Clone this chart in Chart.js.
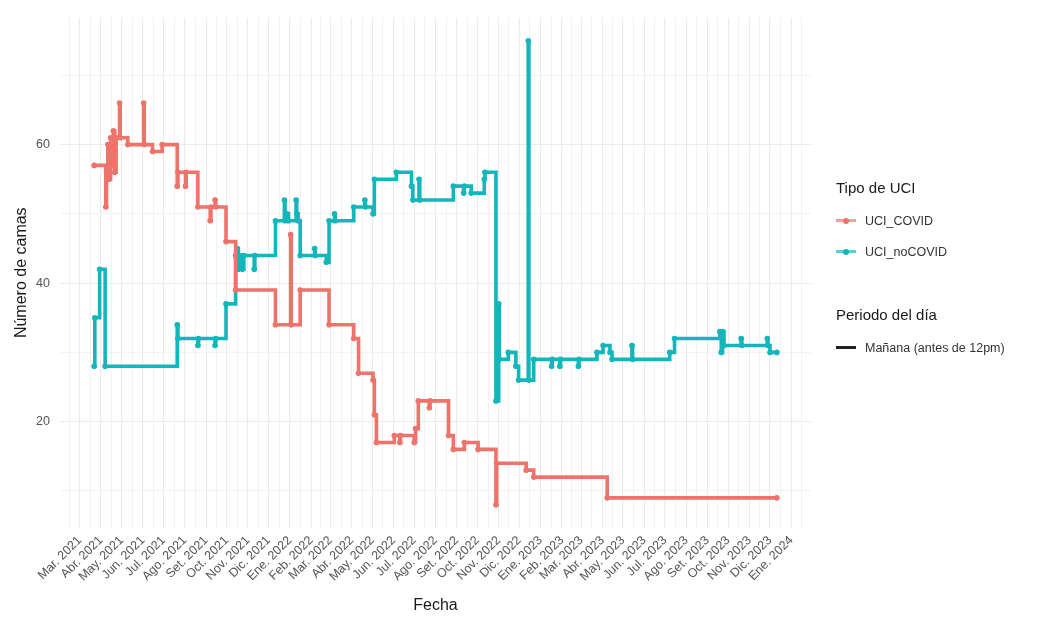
<!DOCTYPE html>
<html>
<head>
<meta charset="utf-8">
<script src="https://cdn.jsdelivr.net/npm/chart.js@4/dist/chart.umd.min.js"></script>
<style>
  body { margin: 0; background: #fff; font-family: "Liberation Sans", Arial, sans-serif; }
  #wrap { position: relative; width: 1045px; height: 620px; }
  .legend { position: absolute; left: 836px; color: #1a1a1a; }
  .legend .title { font-size: 15px; margin-bottom: 9px; }
  .legend .item { display: flex; align-items: center; height: 31px; font-size: 12.5px; color: #333; }
  .key { position: relative; width: 20px; height: 3px; margin-right: 9px; }
  .key .dot { position: absolute; left: 7px; top: -1.5px; width: 6px; height: 6px; border-radius: 3px; }
</style>
</head>
<body>
<div id="wrap">
  <canvas id="chart" width="1045" height="620"></canvas>
  <div class="legend" style="top:179px">
    <div class="title">Tipo de UCI</div>
    <div class="item"><span class="key" style="background:#f3a09a"><span class="dot" style="background:#ed736b"></span></span>UCI_COVID</div>
    <div class="item"><span class="key" style="background:#5fcfd2"><span class="dot" style="background:#13b6ba"></span></span>UCI_noCOVID</div>
  </div>
  <div class="legend" style="top:306px">
    <div class="title">Periodo del día</div>
    <div class="item"><span class="key" style="background:#222"></span>Mañana (antes de 12pm)</div>
  </div>
</div>
<script>
const COLOR_COVID = '#ed736b';
const COLOR_NOCOVID = '#13b6ba';

// UCI_COVID: date of each observation and beds in use
const covidDates = [
  '2021-03-22','2021-04-08','2021-04-09','2021-04-11','2021-04-13','2021-04-15','2021-04-17','2021-04-19',
  '2021-04-21','2021-04-23','2021-04-28','2021-04-29','2021-05-10','2021-06-02','2021-06-03','2021-06-15',
  '2021-06-29','2021-07-21','2021-07-22','2021-08-02','2021-08-03','2021-08-20','2021-09-07','2021-09-08',
  '2021-09-14','2021-09-15','2021-09-30','2021-10-14','2021-12-11','2022-01-02','2022-01-03','2022-01-16',
  '2022-02-27','2022-04-04','2022-04-11','2022-05-02','2022-05-04','2022-05-07','2022-06-02','2022-06-10',
  '2022-06-11','2022-07-01','2022-07-03','2022-07-07','2022-07-23','2022-07-24','2022-08-20','2022-08-27',
  '2022-09-12','2022-10-02','2022-10-28','2022-10-29','2022-12-11','2022-12-22','2023-04-08','2023-12-11'
];
const covidValues = [
  57, 51, 56, 60, 55, 61, 57, 62,
  56, 61, 66, 61, 60, 66, 60, 59,
  60, 54, 56, 54, 56, 51, 49, 51,
  52, 51, 46, 39, 34, 47, 34, 39,
  34, 32, 27, 26, 21, 17, 18, 17,
  18, 17, 19, 23, 22, 23, 18, 16,
  17, 16, 8, 14, 13, 12, 9, 9
];

// UCI_noCOVID
const noCovidDates = [
  '2021-03-22','2021-03-23','2021-03-30','2021-04-07','2021-07-21','2021-07-22','2021-08-20','2021-08-21',
  '2021-09-14','2021-09-15','2021-09-30','2021-10-14','2021-10-16','2021-10-18','2021-10-20','2021-10-24',
  '2021-10-26','2021-11-10','2021-11-11','2021-12-11','2021-12-24','2021-12-25','2021-12-28','2021-12-30',
  '2022-01-10','2022-01-11','2022-01-13','2022-01-16','2022-02-06','2022-02-07','2022-02-23','2022-02-27',
  '2022-03-07','2022-03-08','2022-04-04','2022-04-20','2022-04-21','2022-05-02','2022-05-04','2022-06-05',
  '2022-06-27','2022-06-29','2022-07-08','2022-07-09','2022-08-27','2022-09-11','2022-09-12','2022-09-22',
  '2022-10-11','2022-10-12','2022-10-28','2022-11-01','2022-11-02','2022-11-15','2022-11-26','2022-11-30',
  '2022-12-14','2022-12-15','2022-12-22','2023-01-17','2023-01-18','2023-01-29','2023-01-30','2023-02-25',
  '2023-02-26','2023-03-24','2023-04-02','2023-04-12','2023-04-15','2023-05-14','2023-05-15','2023-07-08',
  '2023-07-15','2023-09-19','2023-09-21','2023-09-23','2023-09-25','2023-10-20','2023-10-21','2023-11-27',
  '2023-11-28','2023-12-01','2023-12-11'
];
const noCovidValues = [
  28, 35, 42, 28, 34, 32, 31, 32,
  31, 32, 37, 44, 45, 42, 44, 42,
  44, 42, 44, 49, 52, 49, 50, 49,
  52, 50, 49, 44, 45, 44, 43, 49,
  50, 49, 51, 52, 51, 50, 55, 56,
  54, 52, 55, 52, 54, 53, 54, 53,
  55, 56, 23, 37, 29, 30, 28, 26,
  75, 26, 29, 28, 29, 28, 29, 28,
  29, 30, 31, 30, 29, 31, 29, 30,
  32, 33, 30, 33, 31, 32, 31, 32,
  31, 30, 30
];

// x axis: month starts and their labels
const monthTicks = [
  '2021-03-01','2021-04-01','2021-05-01','2021-06-01','2021-07-01','2021-08-01','2021-09-01','2021-10-01',
  '2021-11-01','2021-12-01','2022-01-01','2022-02-01','2022-03-01','2022-04-01','2022-05-01','2022-06-01',
  '2022-07-01','2022-08-01','2022-09-01','2022-10-01','2022-11-01','2022-12-01','2023-01-01','2023-02-01',
  '2023-03-01','2023-04-01','2023-05-01','2023-06-01','2023-07-01','2023-08-01','2023-09-01','2023-10-01',
  '2023-11-01','2023-12-01','2024-01-01'
];
const monthLabels = [
  'Mar. 2021','Abr. 2021','May. 2021','Jun. 2021','Jul. 2021','Ago. 2021','Set. 2021','Oct. 2021',
  'Nov. 2021','Dic. 2021','Ene. 2022','Feb. 2022','Mar. 2022','Abr. 2022','May. 2022','Jun. 2022',
  'Jul. 2022','Ago. 2022','Set. 2022','Oct. 2022','Nov. 2022','Dic. 2022','Ene. 2023','Feb. 2023',
  'Mar. 2023','Abr. 2023','May. 2023','Jun. 2023','Jul. 2023','Ago. 2023','Set. 2023','Oct. 2023',
  'Nov. 2023','Dic. 2023','Ene. 2024'
];
const yMajorTicks = [20, 40, 60];
const yMinorTicks = [10, 30, 50, 70];

const toDay = s => Date.parse(s) / 86400000;

function toPoints(dates, values) {
  return dates.map((d, i) => ({ x: toDay(d), y: values[i] }));
}

// ggplot-like 5% expansion of the data range
function expand(lo, hi) {
  const pad = (hi - lo) * 0.05;
  return [lo - pad, hi + pad];
}
const allDays = covidDates.concat(noCovidDates).map(toDay);
const [xMin, xMax] = expand(Math.min(...allDays), Math.max(...allDays));
const allVals = covidValues.concat(noCovidValues);
const [yMin, yMax] = expand(Math.min(...allVals), Math.max(...allVals));

function buildXTicks() {
  const majors = monthTicks.map(toDay);
  const ticks = [];
  majors.forEach((v, i) => {
    ticks.push({ value: v, isMajor: true, text: monthLabels[i] });
    if (i < majors.length - 1) ticks.push({ value: (v + majors[i + 1]) / 2, isMajor: false, text: '' });
  });
  const step = (majors[1] - majors[0]) / 2;
  ticks.unshift({ value: majors[0] - step, isMajor: false, text: '' });
  ticks.push({ value: majors[majors.length - 1] + step, isMajor: false, text: '' });
  return ticks.filter(t => t.value >= xMin && t.value <= xMax);
}

const GRID = '#ebebeb';
const dsStyle = color => ({
  borderColor: color,
  backgroundColor: color,
  borderWidth: 3.6,
  pointRadius: 2.8,
  pointBorderWidth: 0,
  pointBackgroundColor: color,
  stepped: true,
  tension: 0
});

new Chart(document.getElementById('chart'), {
  type: 'line',
  data: {
    datasets: [
      { label: 'UCI_COVID', data: toPoints(covidDates, covidValues), ...dsStyle(COLOR_COVID) },
      { label: 'UCI_noCOVID', data: toPoints(noCovidDates, noCovidValues), ...dsStyle(COLOR_NOCOVID) }
    ]
  },
  options: {
    responsive: false,
    animation: false,
    layout: { padding: { top: 15, right: 234, left: 0, bottom: 0 } },
    plugins: { legend: { display: false }, tooltip: { enabled: false } },
    scales: {
      x: {
        type: 'linear',
        min: xMin,
        max: xMax,
        afterBuildTicks: scale => { scale.ticks = buildXTicks(); },
        afterFit: scale => { scale.height = 92; },
        border: { display: false },
        grid: {
          color: GRID,
          drawTicks: false,
          lineWidth: ctx => (ctx.tick && ctx.tick.isMajor ? 1.1 : 0.6)
        },
        ticks: {
          autoSkip: false,
          minRotation: 45,
          maxRotation: 45,
          padding: 5,
          color: '#555',
          font: { family: 'Liberation Sans', size: 12.5 },
          callback: (value, index, ticks) => ticks[index].text
        },
        title: {
          display: true,
          text: 'Fecha',
          color: '#1a1a1a',
          font: { family: 'Liberation Sans', size: 16 },
          padding: { top: 0, bottom: 5 }
        }
      },
      y: {
        min: yMin,
        max: yMax,
        afterBuildTicks: scale => {
          scale.ticks = yMinorTicks.concat(yMajorTicks).sort((a, b) => a - b)
            .map(v => ({ value: v, isMajor: yMajorTicks.includes(v) }));
        },
        afterFit: scale => { scale.width = 60; },
        border: { display: false },
        grid: {
          color: GRID,
          drawTicks: false,
          lineWidth: ctx => (ctx.tick && ctx.tick.isMajor ? 1.1 : 0.6)
        },
        ticks: {
          padding: 10,
          color: '#555',
          font: { family: 'Liberation Sans', size: 12.5 },
          callback: v => (yMajorTicks.includes(v) ? String(v) : '')
        },
        title: {
          display: true,
          text: 'Número de camas',
          color: '#1a1a1a',
          font: { family: 'Liberation Sans', size: 16 },
          padding: { top: 12, bottom: 0 }
        }
      }
    }
  }
});
</script>
</body>
</html>
